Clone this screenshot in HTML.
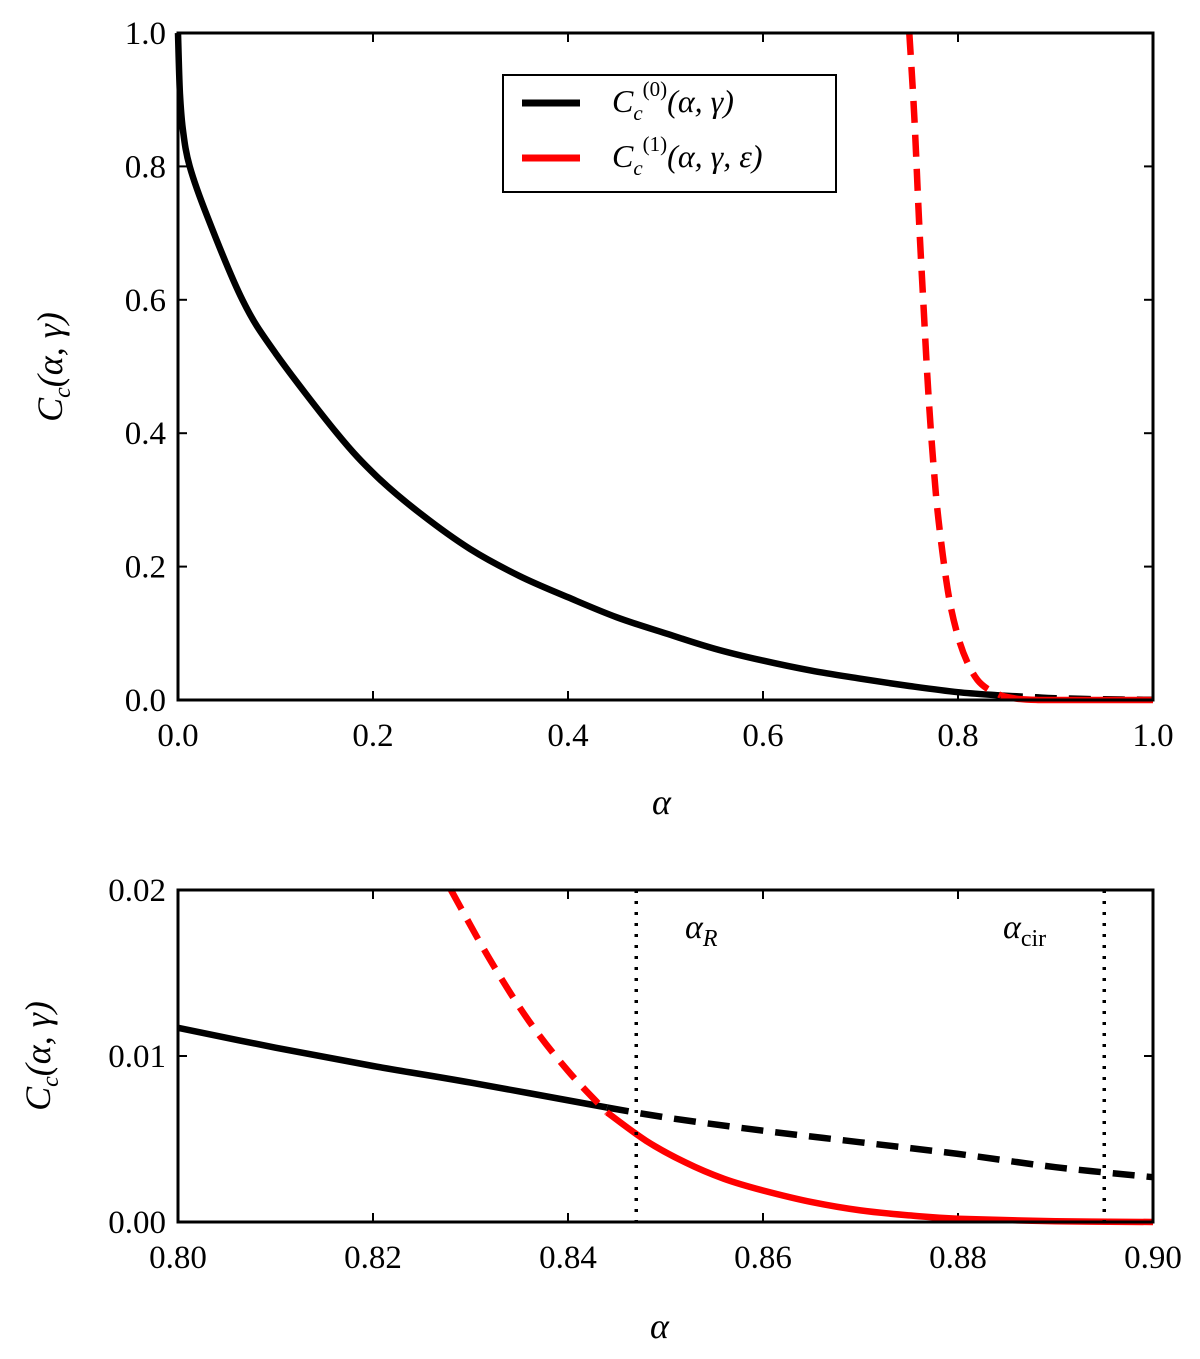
<!DOCTYPE html>
<html><head><meta charset="utf-8"><style>
body{margin:0;background:#fff}
svg text{font-family:"Liberation Serif",serif;fill:#000}
</style></head><body>
<svg id="c" width="1200" height="1354" xmlns="http://www.w3.org/2000/svg"></svg>
<script>
// Top panel data
const topBlackX = [0,0.002,0.005,0.012,0.03,0.066,0.1,0.163,0.204,0.25,0.3,0.35,0.4,0.45,0.5,0.55,0.6,0.65,0.7,0.75,0.8,0.844];
const topBlackY = [1.0,0.91,0.855,0.8,0.725,0.6,0.52,0.4,0.335,0.278,0.226,0.186,0.154,0.124,0.1,0.077,0.059,0.044,0.032,0.021,0.0117,0.0068];
const topBlackDashX = [0.844,0.86,0.88,0.9,0.95,1.0];
const topBlackDashY = [0.0068,0.0055,0.004,0.0027,0.001,0.0003];
const topRedX = [0.75,0.755,0.76,0.765,0.77,0.775,0.78,0.79,0.8,0.81,0.82,0.83,0.844];
const topRedY = [1.0,0.88,0.72,0.58,0.45,0.35,0.27,0.16,0.095,0.055,0.03,0.017,0.0068];
const topRedSolidX = [0.844,0.85,0.86,0.87,0.88,0.9,1.0];
const topRedSolidY = [0.0068,0.0045,0.002,0.0008,0.0002,0,0];
// Bottom panel data
const botBlackX = [0.8,0.81,0.82,0.83,0.844];
const botBlackY = [0.0117,0.0105,0.0094,0.0084,0.0069];
const botBlackDashX = [0.844,0.85,0.86,0.87,0.88,0.89,0.9];
const botBlackDashY = [0.0069,0.0063,0.0055,0.0048,0.0041,0.0033,0.0027];
const botRedDashX = [0.828,0.832,0.836,0.84,0.844];
const botRedDashY = [0.02,0.0158,0.0121,0.0091,0.0066];
const botRedX = [0.844,0.848,0.852,0.856,0.86,0.865,0.87,0.875,0.88,0.89,0.9];
const botRedY = [0.0066,0.0049,0.0036,0.0026,0.0019,0.0012,0.0007,0.0004,0.0002,0.00005,0];
const topXTicks = ["0.0","0.2","0.4","0.6","0.8","1.0"];
const topYTicks = ["0.0","0.2","0.4","0.6","0.8","1.0"];
const botXTicks = ["0.80","0.82","0.84","0.86","0.88","0.90"];
const botYTicks = ["0.00","0.01","0.02"];
const vLines = [0.847,0.895];

const svg=document.getElementById('c');
const NS='http://www.w3.org/2000/svg';
function mk(t,a,p){const e=document.createElementNS(NS,t);for(const k in a)e.setAttribute(k,a[k]);(p||svg).appendChild(e);return e;}

function panel(name,L,T,R,B,xmin,xmax,ymin,ymax,xt,yt){
  const g=mk('g',{});
  
  
  const sx=v=>L+(v-xmin)/(xmax-xmin)*(R-L);
  const sy=v=>B-(v-ymin)/(ymax-ymin)*(B-T);
  xt.forEach(s=>{const x=sx(parseFloat(s));
    const t1=mk('line',{x1:x,x2:x,y1:B,y2:B-9,stroke:'#000','stroke-width':2},g);
    
    mk('line',{x1:x,x2:x,y1:T,y2:T+9,stroke:'#000','stroke-width':2},g);
    const tx=mk('text',{x:x,y:B+46,'font-size':33,'text-anchor':'middle'},g);tx.textContent=s;
    });
  yt.forEach(s=>{const y=sy(parseFloat(s));
    const t1=mk('line',{x1:L,x2:L+9,y1:y,y2:y,stroke:'#000','stroke-width':2},g);
    
    mk('line',{x1:R,x2:R-9,y1:y,y2:y,stroke:'#000','stroke-width':2},g);
    const tx=mk('text',{x:L-12,y:y+11,'font-size':33,'text-anchor':'end'},g);tx.textContent=s;
    });
  return {g,sx,sy};
}
function line(p,xs,ys,color,dash,name){
  const pts=xs.map((x,i)=>[p.sx(x),p.sy(ys[i])]);
  let d='M'+pts[0][0].toFixed(1)+','+pts[0][1].toFixed(1);
  for(let i=0;i<pts.length-1;i++){
    const p0=pts[Math.max(0,i-1)],p1=pts[i],p2=pts[i+1],p3=pts[Math.min(pts.length-1,i+2)];
    const c1=[p1[0]+(p2[0]-p0[0])/6,p1[1]+(p2[1]-p0[1])/6];
    const c2=[p2[0]-(p3[0]-p1[0])/6,p2[1]-(p3[1]-p1[1])/6];
    d+='C'+c1.map(v=>v.toFixed(1)).join(',')+' '+c2.map(v=>v.toFixed(1)).join(',')+' '+p2.map(v=>v.toFixed(1)).join(',');
  }
  const a={d:d,fill:'none',stroke:color,'stroke-width':6.5,'stroke-linejoin':'round'};
  if(dash)a['stroke-dasharray']='22,12';
  const e=mk('path',a,p.g);
  
  
}
function frame(p,L,T,R,B){
  const r=mk('rect',{x:L,y:T,width:R-L,height:B-T,fill:'none',stroke:'#000','stroke-width':3},p.g);
  
}

// top
const P1=panel('top-panel',178,33,1153,700,0,1,0,1,topXTicks,topYTicks);
line(P1,topBlackX,topBlackY,'#000',false,'black-curve-solid');
line(P1,topBlackDashX,topBlackDashY,'#000',true,'black-curve-dashed');
line(P1,topRedSolidX,topRedSolidY,'#f00',false,'red-curve-solid');
line(P1,topRedX,topRedY,'#f00',true,'red-curve-dashed');
frame(P1,178,33,1153,700);
// bottom
const P2=panel('bottom-panel',178,890,1153,1222,0.8,0.9,0,0.02,botXTicks,botYTicks);
line(P2,botBlackX,botBlackY,'#000',false,'black-curve-solid');
line(P2,botBlackDashX,botBlackDashY,'#000',true,'black-curve-dashed');
line(P2,botRedX,botRedY,'#f00',false,'red-curve-solid');
line(P2,botRedDashX,botRedDashY,'#f00',true,'red-curve-dashed');
vLines.forEach(v=>{const x=P2.sx(v);
  const e=mk('line',{x1:x,x2:x,y1:890,y2:1222,stroke:'#000','stroke-width':3.5,'stroke-dasharray':'3,8'},P2.g);
  });
frame(P2,178,890,1153,1222);
</script>
<svg width="1200" height="1354" style="position:absolute;left:0;top:0" xmlns="http://www.w3.org/2000/svg">
<g>
<rect x="503" y="75" width="333" height="117" fill="#fff" stroke="#000" stroke-width="2"/>
<line x1="522" y1="103" x2="580" y2="103" stroke="#000" stroke-width="7"/>
<line x1="522" y1="158" x2="580" y2="158" stroke="#f00" stroke-width="7"/>
<text x="612" y="112" font-size="32" font-style="italic">C<tspan font-size="21" dy="8">c</tspan><tspan font-size="21" dy="-24" font-style="normal">(0)</tspan><tspan dy="16">(α, γ)</tspan></text>
<text x="612" y="167" font-size="32" font-style="italic">C<tspan font-size="21" dy="8">c</tspan><tspan font-size="21" dy="-24" font-style="normal">(1)</tspan><tspan dy="16">(α, γ, ε)</tspan></text>
</g>
<text x="652" y="814" font-size="36" font-style="italic">α</text>
<text transform="translate(62,367) rotate(-90)" font-size="36" text-anchor="middle" font-style="italic">C<tspan font-size="24" dy="8">c</tspan><tspan dy="-8">(α, γ)</tspan></text>
<text x="650" y="1338" font-size="36" font-style="italic">α</text>
<text transform="translate(50,1056) rotate(-90)" font-size="36" text-anchor="middle" font-style="italic">C<tspan font-size="24" dy="8">c</tspan><tspan dy="-8">(α, γ)</tspan></text>
<text x="685" y="938" font-size="34" font-style="italic">α<tspan font-size="24" dy="8">R</tspan></text>
<text x="1003" y="938" font-size="34" font-style="italic">α<tspan font-size="24" dy="8" font-style="normal">cir</tspan></text>
</svg>
</body></html>
